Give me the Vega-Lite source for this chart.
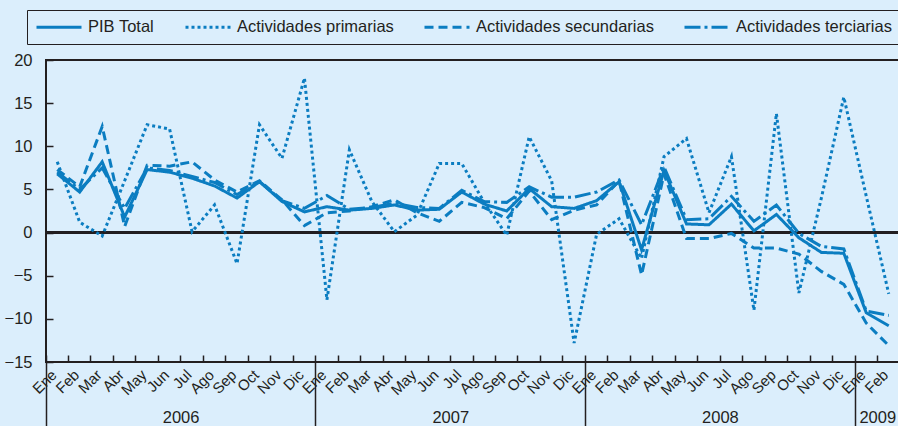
{
  "$schema": "https://vega.github.io/schema/vega-lite/v6.json",
  "width": 854,
  "height": 302,
  "autosize": {"type": "none"},
  "padding": {"left": 46, "top": 60, "right": 0, "bottom": 64},
  "background": "#dbeefc",
  "config": {
    "view": {"stroke": "#231f20", "strokeWidth": 2},
    "font": "Liberation Sans",
    "axis": {"labelFont": "Liberation Sans", "labelColor": "#231f20", "tickColor": "#231f20", "domain": false, "grid": false, "title": null}
  },
  "data": {
    "values": [
      {"mes": "2006-01", "PIB Total": 6.8, "Actividades primarias": 8.2, "Actividades secundarias": 7.3, "Actividades terciarias": 7.0},
      {"mes": "2006-02", "PIB Total": 4.7, "Actividades primarias": 1.2, "Actividades secundarias": 5.3, "Actividades terciarias": 5.0},
      {"mes": "2006-03", "PIB Total": 8.2, "Actividades primarias": -0.4, "Actividades secundarias": 12.3, "Actividades terciarias": 7.5},
      {"mes": "2006-04", "PIB Total": 1.8, "Actividades primarias": 6.0, "Actividades secundarias": 0.7, "Actividades terciarias": 2.8},
      {"mes": "2006-05", "PIB Total": 7.3, "Actividades primarias": 12.5, "Actividades secundarias": 7.8, "Actividades terciarias": 7.5},
      {"mes": "2006-06", "PIB Total": 7.0, "Actividades primarias": 12.0, "Actividades secundarias": 7.7, "Actividades terciarias": 7.2},
      {"mes": "2006-07", "PIB Total": 6.3, "Actividades primarias": 0.1, "Actividades secundarias": 8.2, "Actividades terciarias": 6.5},
      {"mes": "2006-08", "PIB Total": 5.4, "Actividades primarias": 3.2, "Actividades secundarias": 6.1, "Actividades terciarias": 5.8},
      {"mes": "2006-09", "PIB Total": 4.0, "Actividades primarias": -3.6, "Actividades secundarias": 4.7, "Actividades terciarias": 4.4},
      {"mes": "2006-10", "PIB Total": 5.9, "Actividades primarias": 12.5, "Actividades secundarias": 6.0, "Actividades terciarias": 5.9},
      {"mes": "2006-11", "PIB Total": 3.6, "Actividades primarias": 8.6, "Actividades secundarias": 3.8, "Actividades terciarias": 3.7},
      {"mes": "2006-12", "PIB Total": 2.4, "Actividades primarias": 17.9, "Actividades secundarias": 0.8, "Actividades terciarias": 2.8},
      {"mes": "2007-01", "PIB Total": 3.0, "Actividades primarias": -7.8, "Actividades secundarias": 2.3, "Actividades terciarias": 4.3},
      {"mes": "2007-02", "PIB Total": 2.6, "Actividades primarias": 9.6, "Actividades secundarias": 2.5, "Actividades terciarias": 2.7},
      {"mes": "2007-03", "PIB Total": 2.8, "Actividades primarias": 3.6, "Actividades secundarias": 3.0, "Actividades terciarias": 2.9},
      {"mes": "2007-04", "PIB Total": 3.2, "Actividades primarias": 0.1, "Actividades secundarias": 3.8, "Actividades terciarias": 3.4},
      {"mes": "2007-05", "PIB Total": 2.6, "Actividades primarias": 2.0, "Actividades secundarias": 2.3, "Actividades terciarias": 2.9},
      {"mes": "2007-06", "PIB Total": 2.7, "Actividades primarias": 8.0, "Actividades secundarias": 1.3, "Actividades terciarias": 2.8},
      {"mes": "2007-07", "PIB Total": 4.7, "Actividades primarias": 8.0, "Actividades secundarias": 3.5, "Actividades terciarias": 4.9},
      {"mes": "2007-08", "PIB Total": 3.3, "Actividades primarias": 3.5, "Actividades secundarias": 2.9, "Actividades terciarias": 3.6},
      {"mes": "2007-09", "PIB Total": 2.5, "Actividades primarias": -0.3, "Actividades secundarias": 1.6, "Actividades terciarias": 3.5},
      {"mes": "2007-10", "PIB Total": 5.1, "Actividades primarias": 11.1, "Actividades secundarias": 4.8, "Actividades terciarias": 5.3},
      {"mes": "2007-11", "PIB Total": 3.0, "Actividades primarias": 6.0, "Actividades secundarias": 1.5, "Actividades terciarias": 4.1},
      {"mes": "2007-12", "PIB Total": 2.8, "Actividades primarias": -12.8, "Actividades secundarias": 2.6, "Actividades terciarias": 4.1},
      {"mes": "2008-01", "PIB Total": 3.7, "Actividades primarias": -0.2, "Actividades secundarias": 3.2, "Actividades terciarias": 4.7},
      {"mes": "2008-02", "PIB Total": 5.9, "Actividades primarias": 1.6, "Actividades secundarias": 6.0, "Actividades terciarias": 6.1},
      {"mes": "2008-03", "PIB Total": -2.0, "Actividades primarias": -3.0, "Actividades secundarias": -4.9, "Actividades terciarias": 0.9},
      {"mes": "2008-04", "PIB Total": 7.2, "Actividades primarias": 8.8, "Actividades secundarias": 6.8, "Actividades terciarias": 7.6},
      {"mes": "2008-05", "PIB Total": 1.0, "Actividades primarias": 10.9, "Actividades secundarias": -0.7, "Actividades terciarias": 1.5},
      {"mes": "2008-06", "PIB Total": 0.9, "Actividades primarias": 2.3, "Actividades secundarias": -0.7, "Actividades terciarias": 1.6},
      {"mes": "2008-07", "PIB Total": 3.3, "Actividades primarias": 8.8, "Actividades secundarias": -0.1, "Actividades terciarias": 4.2},
      {"mes": "2008-08", "PIB Total": 0.2, "Actividades primarias": -9.0, "Actividades secundarias": -1.8, "Actividades terciarias": 1.3},
      {"mes": "2008-09", "PIB Total": 2.1, "Actividades primarias": 13.8, "Actividades secundarias": -1.8, "Actividades terciarias": 3.2},
      {"mes": "2008-10", "PIB Total": -0.6, "Actividades primarias": -7.0, "Actividades secundarias": -2.5, "Actividades terciarias": -0.1},
      {"mes": "2008-11", "PIB Total": -2.3, "Actividades primarias": 4.0, "Actividades secundarias": -4.5, "Actividades terciarias": -1.6},
      {"mes": "2008-12", "PIB Total": -2.4, "Actividades primarias": 15.7, "Actividades secundarias": -6.0, "Actividades terciarias": -1.9},
      {"mes": "2009-01", "PIB Total": -9.3, "Actividades primarias": 4.2, "Actividades secundarias": -10.5, "Actividades terciarias": -9.1},
      {"mes": "2009-02", "PIB Total": -10.8, "Actividades primarias": -7.1, "Actividades secundarias": -13.1, "Actividades terciarias": -9.6}
    ]
  },
  "transform": [
    {"fold": ["PIB Total", "Actividades primarias", "Actividades secundarias", "Actividades terciarias"], "as": ["serie", "v"]}
  ],
  "resolve": {"axis": {"x": "independent"}},
  "layer": [
    {
      "mark": {"type": "rule", "color": "#231f20", "strokeWidth": 1.5},
      "encoding": {"y": {"datum": 0, "type": "quantitative"}}
    },
    {
      "mark": {"type": "line", "strokeWidth": 3, "color": "#0b7dc1", "strokeCap": "butt", "strokeJoin": "miter"},
      "encoding": {
        "x": {
          "field": "mes", "type": "ordinal",
          "scale": {"type": "band", "paddingInner": 0, "paddingOuter": 0},
          "axis": {
            "orient": "bottom", "bandPosition": 0, "tickSize": -7, "tickWidth": 1.5,
            "labelAngle": -45, "labelPadding": 12, "labelOffset": -8, "labelFontSize": 15, "labelOverlap": false,
            "labelExpr": "['Ene','Feb','Mar','Abr','May','Jun','Jul','Ago','Sep','Oct','Nov','Dic'][toNumber(substring(datum.value,5,7))-1]"
          }
        },
        "y": {
          "field": "v", "type": "quantitative",
          "scale": {"domain": [-15, 20], "nice": false, "zero": false},
          "axis": {"values": [-15, -10, -5, 0, 5, 10, 15, 20], "tickSize": -7, "tickWidth": 1.5, "labelPadding": 21, "labelFontSize": 16.5}
        },
        "strokeDash": {
          "field": "serie", "type": "nominal",
          "scale": {
            "domain": ["PIB Total", "Actividades primarias", "Actividades secundarias", "Actividades terciarias"],
            "range": [[1, 0], [3, 3], [9, 5], [16, 4, 3, 4]]
          },
          "legend": {
            "title": null, "orient": "none", "legendX": -19, "legendY": -50, "direction": "horizontal",
            "symbolType": "M-1,0H5", "symbolSize": 225, "symbolStrokeWidth": 3, "symbolStrokeColor": "#0b7dc1",
            "labelFontSize": 16.5, "labelColor": "#231f20", "labelFont": "Liberation Sans", "labelOffset": 35, "columnPadding": 24,
            "padding": 8, "strokeColor": "#231f20", "fillColor": "#dbeefc", "labelLimit": 400
          }
        }
      }
    },
    {
      "mark": {"type": "point", "opacity": 0},
      "encoding": {
        "x": {
          "field": "mes", "type": "ordinal",
          "scale": {"type": "band", "paddingInner": 0, "paddingOuter": 0},
          "axis": {"orient": "bottom", "bandPosition": 0, "values": ["2006-01", "2007-01", "2008-01", "2009-01"], "tickSize": 64, "tickWidth": 1.5, "labels": false}
        }
      }
    },
    {
      "mark": {"type": "point", "opacity": 0},
      "encoding": {
        "x": {
          "field": "mes", "type": "ordinal",
          "scale": {"type": "band", "paddingInner": 0, "paddingOuter": 0},
          "axis": {"orient": "bottom", "bandPosition": 0, "values": ["2006-07", "2007-07", "2008-07", "2009-02"], "ticks": false, "labelAngle": 0, "labelAlign": "center", "labelBaseline": "top", "labelPadding": 47, "labelOffset": -11, "labelFontSize": 16.5, "labelExpr": "substring(datum.value,0,4)"}
        }
      }
    }
  ]
}
